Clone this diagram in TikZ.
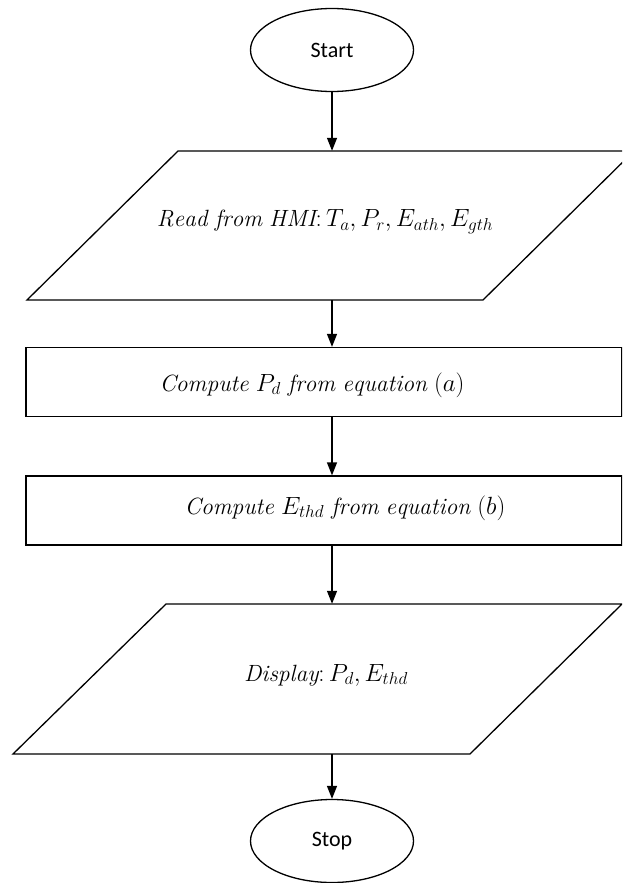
\documentclass[tikz,border=0pt]{standalone}
\usepackage{fontspec}
\setsansfont{Carlito}
\usetikzlibrary{shapes.geometric,arrows.meta}
\tikzset{
  outline/.style={draw=black,line width=1.3pt},
  term/.style={outline,ellipse,minimum width=163pt,minimum height=83pt,inner sep=0pt,
    font=\sffamily\fontsize{22}{26}\selectfont},
  procbox/.style={outline,rectangle,minimum width=596pt,minimum height=69pt,inner sep=0pt},
  ioframe/.style={inner sep=0pt,minimum width=1pt},
  label/.style={inner sep=0pt,font=\fontsize{23.5}{28}\selectfont},
  arr/.style={line width=1.3pt,-{Triangle[width=10pt,length=13pt]}}
}
\begin{document}
\begin{tikzpicture}[x=1pt,y=-1pt]
\useasboundingbox (0,0) rectangle (622,883);
\clip (0,0) rectangle (622,883);
% terminals
\node[term] (start) at (332,50) {Start};
\node[term] (stop) at (332,841) {Stop};
% input parallelogram
\draw[outline,line join=miter] (27,300) -- (178,151) -- (634,151) -- (483,300) -- cycle;
\node[ioframe,minimum height=149pt] (read) at (332,225.5) {};
\node[label] (readt) at (325,222) {$\mathit{Read\ from\ HMI}\colon T_a, P_r, E_{ath}, E_{gth}$};
% process boxes
\node[procbox] (comp1) at (324,382) {};
\node[label] (comp1t) at (312,385) {$\mathit{Compute}\ P_d\ \mathit{from\ equation}\ (a)$};
\node[procbox] (comp2) at (324,510.5) {};
\node[label] (comp2t) at (345,508) {$\mathit{Compute}\ E_{thd}\ \mathit{from\ equation}\ (b)$};
% output parallelogram
\draw[outline,line join=miter] (13,754) -- (166,604) -- (622,604) -- (470,754) -- cycle;
\node[ioframe,minimum height=150pt] (disp) at (332,679) {};
\node[label] (dispt) at (326,675) {$\mathit{Display}\colon P_d, E_{thd}$};
% connectors
\draw[arr] (start.south) -- (read.north);
\draw[arr] (read.south) -- (read.south |- comp1.north);
\draw[arr] (read.south |- comp1.south) -- (read.south |- comp2.north);
\draw[arr] (read.south |- comp2.south) -- (disp.north);
\draw[arr] (disp.south) -- (stop.north);
\end{tikzpicture}
\end{document}
